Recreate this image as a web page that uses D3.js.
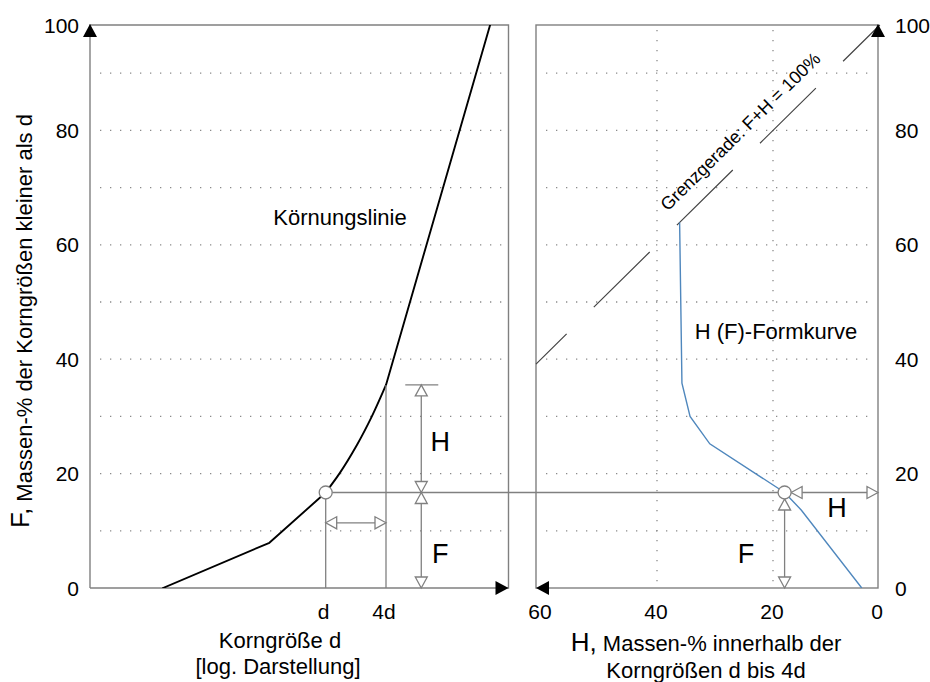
<!DOCTYPE html>
<html>
<head>
<meta charset="utf-8">
<script src="https://cdn.jsdelivr.net/npm/d3@7"></script>
<style>
  body { margin: 0; background: #fff; }
  svg { display: block; font-family: "Liberation Sans", Arial, sans-serif; }
</style>
</head>
<body>
<svg id="chart" width="930" height="682"></svg>
<script>
// Körnungslinie: grain size (relative to d) and mass passing F in %
const grainSize = [0.0237, 0.274, 1, 1.37, 2.05, 2.89, 4, 46.5];
const grainF    = [0, 7.9, 16.7, 20, 25, 30, 35.5, 100];

// H(F) shape curve: F in % and H (mass % between d and 4d)
const shapeF = [63.9, 35.8, 30, 25.2, 16.7, 13.6, 0];
const shapeH = [36.1, 35.7, 34.3, 30.9, 18, 15.1, 4.7];

// marked reading: F(d), F(4d) and H at that F
const markF = 16.7, markF4 = 35.5, markH = 18;

// axis ticks
const fTicks = [0, 20, 40, 60, 80, 100];
const fGrid  = [10, 20, 30, 40, 50, 60, 70, 80, 90];
const hTicks = [60, 40, 20, 0];
const hGrid  = [40, 20];
const sizeTicks  = [1, 4];
const sizeLabels = ["d", "4d"];

// limit line F + H = 100 %
const limitSum = 100;

const svg = d3.select("#chart");
const box = { l1: 90, r1: 508.5, l2: 536, r2: 878, top: 25, bottom: 588 };
const grey = "#808080";

const yF = d3.scaleLinear().domain([0, 100]).range([588, 16]);
const xD = d3.scaleLog().domain([1, 4]).range([325.7, 386]);
const xH = d3.scaleLinear().domain([0, 60]).range([889, 541]);

const clampY = v => Math.max(box.top, yF(v));
const clampX = v => Math.min(box.r2, Math.max(box.l2, xH(v)));

// clip paths for the two panels
const defs = svg.append("defs");
defs.append("clipPath").attr("id", "clipL").append("rect")
  .attr("x", box.l1).attr("y", box.top).attr("width", box.r1 - box.l1).attr("height", box.bottom - box.top);
defs.append("clipPath").attr("id", "clipR").append("rect")
  .attr("x", box.l2).attr("y", box.top).attr("width", box.r2 - box.l2).attr("height", box.bottom - box.top);

// dotted grid
const grid = svg.append("g").attr("stroke", "#8a8a8a").attr("stroke-width", 1.3)
  .attr("stroke-dasharray", "1.3 8.7").attr("fill", "none");
grid.selectAll(".gl").data(fGrid).join("line")
  .attr("x1", 100).attr("x2", 502).attr("y1", d => yF(d)).attr("y2", d => yF(d));
grid.selectAll(".gr").data(fGrid).join("line")
  .attr("x1", 546).attr("x2", 872).attr("y1", d => yF(d)).attr("y2", d => yF(d));
grid.selectAll(".gv").data(hGrid).join("line")
  .attr("x1", d => xH(d)).attr("x2", d => xH(d)).attr("y1", 30).attr("y2", box.bottom);

// panel frames
const frames = svg.append("g").attr("stroke", grey).attr("stroke-width", 1.4).attr("fill", "none");
frames.append("path").attr("d", `M${box.l1},${box.bottom}V${box.top}H${box.r1}V${box.bottom}H${box.l1}`);
frames.append("rect").attr("x", box.l2).attr("y", box.top)
  .attr("width", box.r2 - box.l2).attr("height", box.bottom - box.top);

// limit line F + H = 100 (dashed)
const hLeft = xH.invert(box.l2), fTop = yF.invert(box.top);
const limitPts = [[hLeft, limitSum - hLeft], [limitSum - fTop, fTop]];
svg.append("path")
  .attr("d", d3.line().x(d => xH(d[0])).y(d => yF(d[1]))(limitPts))
  .attr("stroke", "#444").attr("stroke-width", 1.2).attr("fill", "none")
  .attr("stroke-dasharray", "78.5 38.2").attr("stroke-dashoffset", 35.5);

// Körnungslinie: straight below d and above 4d, smooth between d and 4d
const grainPts = grainSize.map((s, i) => [s, grainF[i]]);
const iD = grainSize.indexOf(1), i4 = grainSize.indexOf(4);
const gx = d => xD(d[0]), gy = d => yF(d[1]);
const grainG = svg.append("g").attr("clip-path", "url(#clipL)")
  .attr("stroke", "#000").attr("stroke-width", 1.9).attr("fill", "none")
  .attr("stroke-linejoin", "round").attr("stroke-linecap", "round");
grainG.append("path").attr("d", d3.line().x(gx).y(gy)(grainPts.slice(0, iD + 1)));
grainG.append("path").attr("d", d3.line().x(gx).y(gy).curve(d3.curveMonotoneY)(grainPts.slice(iD, i4 + 1)));
grainG.append("path").attr("d", d3.line().x(gx).y(gy)(grainPts.slice(i4)));

// H(F) shape curve
const shapePts = shapeF.map((f, i) => [shapeH[i], f]);
svg.append("path")
  .attr("clip-path", "url(#clipR)")
  .attr("d", d3.line().x(d => xH(d[0])).y(d => yF(d[1]))(shapePts))
  .attr("stroke", "#4f87bd").attr("stroke-width", 1.4).attr("fill", "none");

// helper: open triangle arrowhead with its tip at (x, y)
function openTri(g, x, y, dir) {
  const len = 11, hw = 6;
  let pts;
  if (dir === "up")    pts = [[x, y], [x - hw, y + len], [x + hw, y + len]];
  if (dir === "down")  pts = [[x, y], [x - hw, y - len], [x + hw, y - len]];
  if (dir === "left")  pts = [[x, y], [x + len, y - hw], [x + len, y + hw]];
  if (dir === "right") pts = [[x, y], [x - len, y - hw], [x - len, y + hw]];
  g.append("path").attr("d", "M" + pts.join("L") + "Z")
    .attr("fill", "#fff").attr("stroke", grey).attr("stroke-width", 1.3);
}

const ann = svg.append("g").attr("stroke", grey).attr("stroke-width", 1.3).attr("fill", "none");
const r = 6.5;
const cxL = xD(1), cyM = yF(markF), x4 = xD(4), y4 = yF(markF4);
const cxR = xH(markH);

// verticals at d and 4d
ann.append("line").attr("x1", cxL).attr("x2", cxL).attr("y1", cyM + r).attr("y2", yF(0));
ann.append("line").attr("x1", x4).attr("x2", x4).attr("y1", y4).attr("y2", yF(0));
// connector from the grading curve to the shape curve
ann.append("line").attr("x1", cxL + r).attr("x2", cxR - r).attr("y1", cyM).attr("y2", cyM);

// H / F arrows in the left panel
const arrowX = xD(9);
ann.append("line").attr("x1", arrowX - 16).attr("x2", arrowX + 17).attr("y1", y4).attr("y2", y4);
ann.append("line").attr("x1", arrowX).attr("x2", arrowX).attr("y1", y4).attr("y2", yF(0));
openTri(ann, arrowX, y4, "up");
openTri(ann, arrowX, cyM, "down");
openTri(ann, arrowX, cyM, "up");
openTri(ann, arrowX, yF(0), "down");

// d .. 4d span arrow
const spanY = yF(11.4);
ann.append("line").attr("x1", cxL).attr("x2", x4).attr("y1", spanY).attr("y2", spanY);
openTri(ann, cxL, spanY, "left");
openTri(ann, x4, spanY, "right");

// H / F arrows in the right panel
ann.append("line").attr("x1", cxR + r).attr("x2", box.r2).attr("y1", cyM).attr("y2", cyM);
openTri(ann, cxR + r, cyM, "left");
openTri(ann, box.r2, cyM, "right");
ann.append("line").attr("x1", cxR).attr("x2", cxR).attr("y1", cyM + r).attr("y2", yF(0));
openTri(ann, cxR, cyM + r, "up");
openTri(ann, cxR, yF(0), "down");

// reading points
[[cxL, cyM], [cxR, cyM]].forEach(p => {
  svg.append("circle").attr("cx", p[0]).attr("cy", p[1]).attr("r", r)
    .attr("fill", "#fff").attr("stroke", grey).attr("stroke-width", 1.3);
});

// solid axis arrowheads
const axArr = svg.append("g");
function solidTri(x, y, dir) {
  const len = 13, hw = 7;
  let pts;
  if (dir === "up")    pts = [[x, y], [x - hw, y + len], [x + hw, y + len]];
  if (dir === "left")  pts = [[x, y], [x + len, y - hw], [x + len, y + hw]];
  if (dir === "right") pts = [[x, y], [x - len, y - hw], [x - len, y + hw]];
  axArr.append("path").attr("d", "M" + pts.join("L") + "Z").attr("fill", "#000");
}
solidTri(box.l1, box.top - 1, "up");
solidTri(box.r1, box.bottom, "right");
solidTri(box.l2, box.bottom, "left");
solidTri(box.r2, box.top - 1, "up");

// tick labels
const txt = svg.append("g").attr("fill", "#000");
txt.selectAll(".tl").data(fTicks).join("text")
  .attr("x", 79).attr("y", d => clampY(d) + 7.5).attr("text-anchor", "end")
  .attr("font-size", 21).text(d => d);
txt.selectAll(".tr").data(fTicks).join("text")
  .attr("x", 895).attr("y", d => clampY(d) + 7.5).attr("text-anchor", "start")
  .attr("font-size", 21).text(d => d);
txt.selectAll(".th").data(hTicks).join("text")
  .attr("x", d => clampX(d) - 1).attr("y", 619).attr("text-anchor", "middle")
  .attr("font-size", 21).text(d => d);
txt.selectAll(".td").data(sizeTicks).join("text")
  .attr("x", d => xD(d) - 2).attr("y", 619).attr("text-anchor", "middle")
  .attr("font-size", 21).text((d, i) => sizeLabels[i]);

// axis titles
txt.append("text").attr("x", 280).attr("y", 648).attr("text-anchor", "middle")
  .attr("font-size", 22).text("Korngröße d");
txt.append("text").attr("x", 278).attr("y", 674).attr("text-anchor", "middle")
  .attr("font-size", 22).text("[log. Darstellung]");

const hTitle = txt.append("text").attr("x", 706).attr("y", 651).attr("text-anchor", "middle");
hTitle.append("tspan").attr("font-size", 26).text("H,");
hTitle.append("tspan").attr("font-size", 22).text(" Massen-% innerhalb der");
txt.append("text").attr("x", 706).attr("y", 678).attr("text-anchor", "middle")
  .attr("font-size", 22).text("Korngrößen d bis 4d");

const fTitle = txt.append("text").attr("transform", "translate(29,528) rotate(-90)");
fTitle.append("tspan").attr("font-size", 26).text("F,");
fTitle.append("tspan").attr("font-size", 22).attr("dy", 3).text(" Massen-% der Korngrößen kleiner als d");

// curve labels
txt.append("text").attr("x", 340).attr("y", 225).attr("text-anchor", "middle")
  .attr("font-size", 22).text("Körnungslinie");
txt.append("text").attr("x", 776).attr("y", 339).attr("text-anchor", "middle")
  .attr("font-size", 22).text("H (F)-Formkurve");

// limit line label, parallel to the line, starting above the shape curve's top
const ang = Math.atan2(yF(1) - yF(0), xH(0) - xH(1)) * 180 / Math.PI;
txt.append("text")
  .attr("transform", `translate(${xH(shapeH[0])},${yF(shapeF[0])}) rotate(${ang})`)
  .attr("x", -1).attr("y", -16).attr("font-size", 18)
  .text("Grenzgerade: F+H = 100%");

// H and F symbols
const sym = [["H", arrowX + 19, 451], ["F", arrowX + 19, 563], ["H", 837, 517], ["F", 746, 563]];
sym.forEach(s => {
  txt.append("text").attr("x", s[1]).attr("y", s[2]).attr("text-anchor", "middle")
    .attr("font-size", 27).text(s[0]);
});
</script>
</body>
</html>
